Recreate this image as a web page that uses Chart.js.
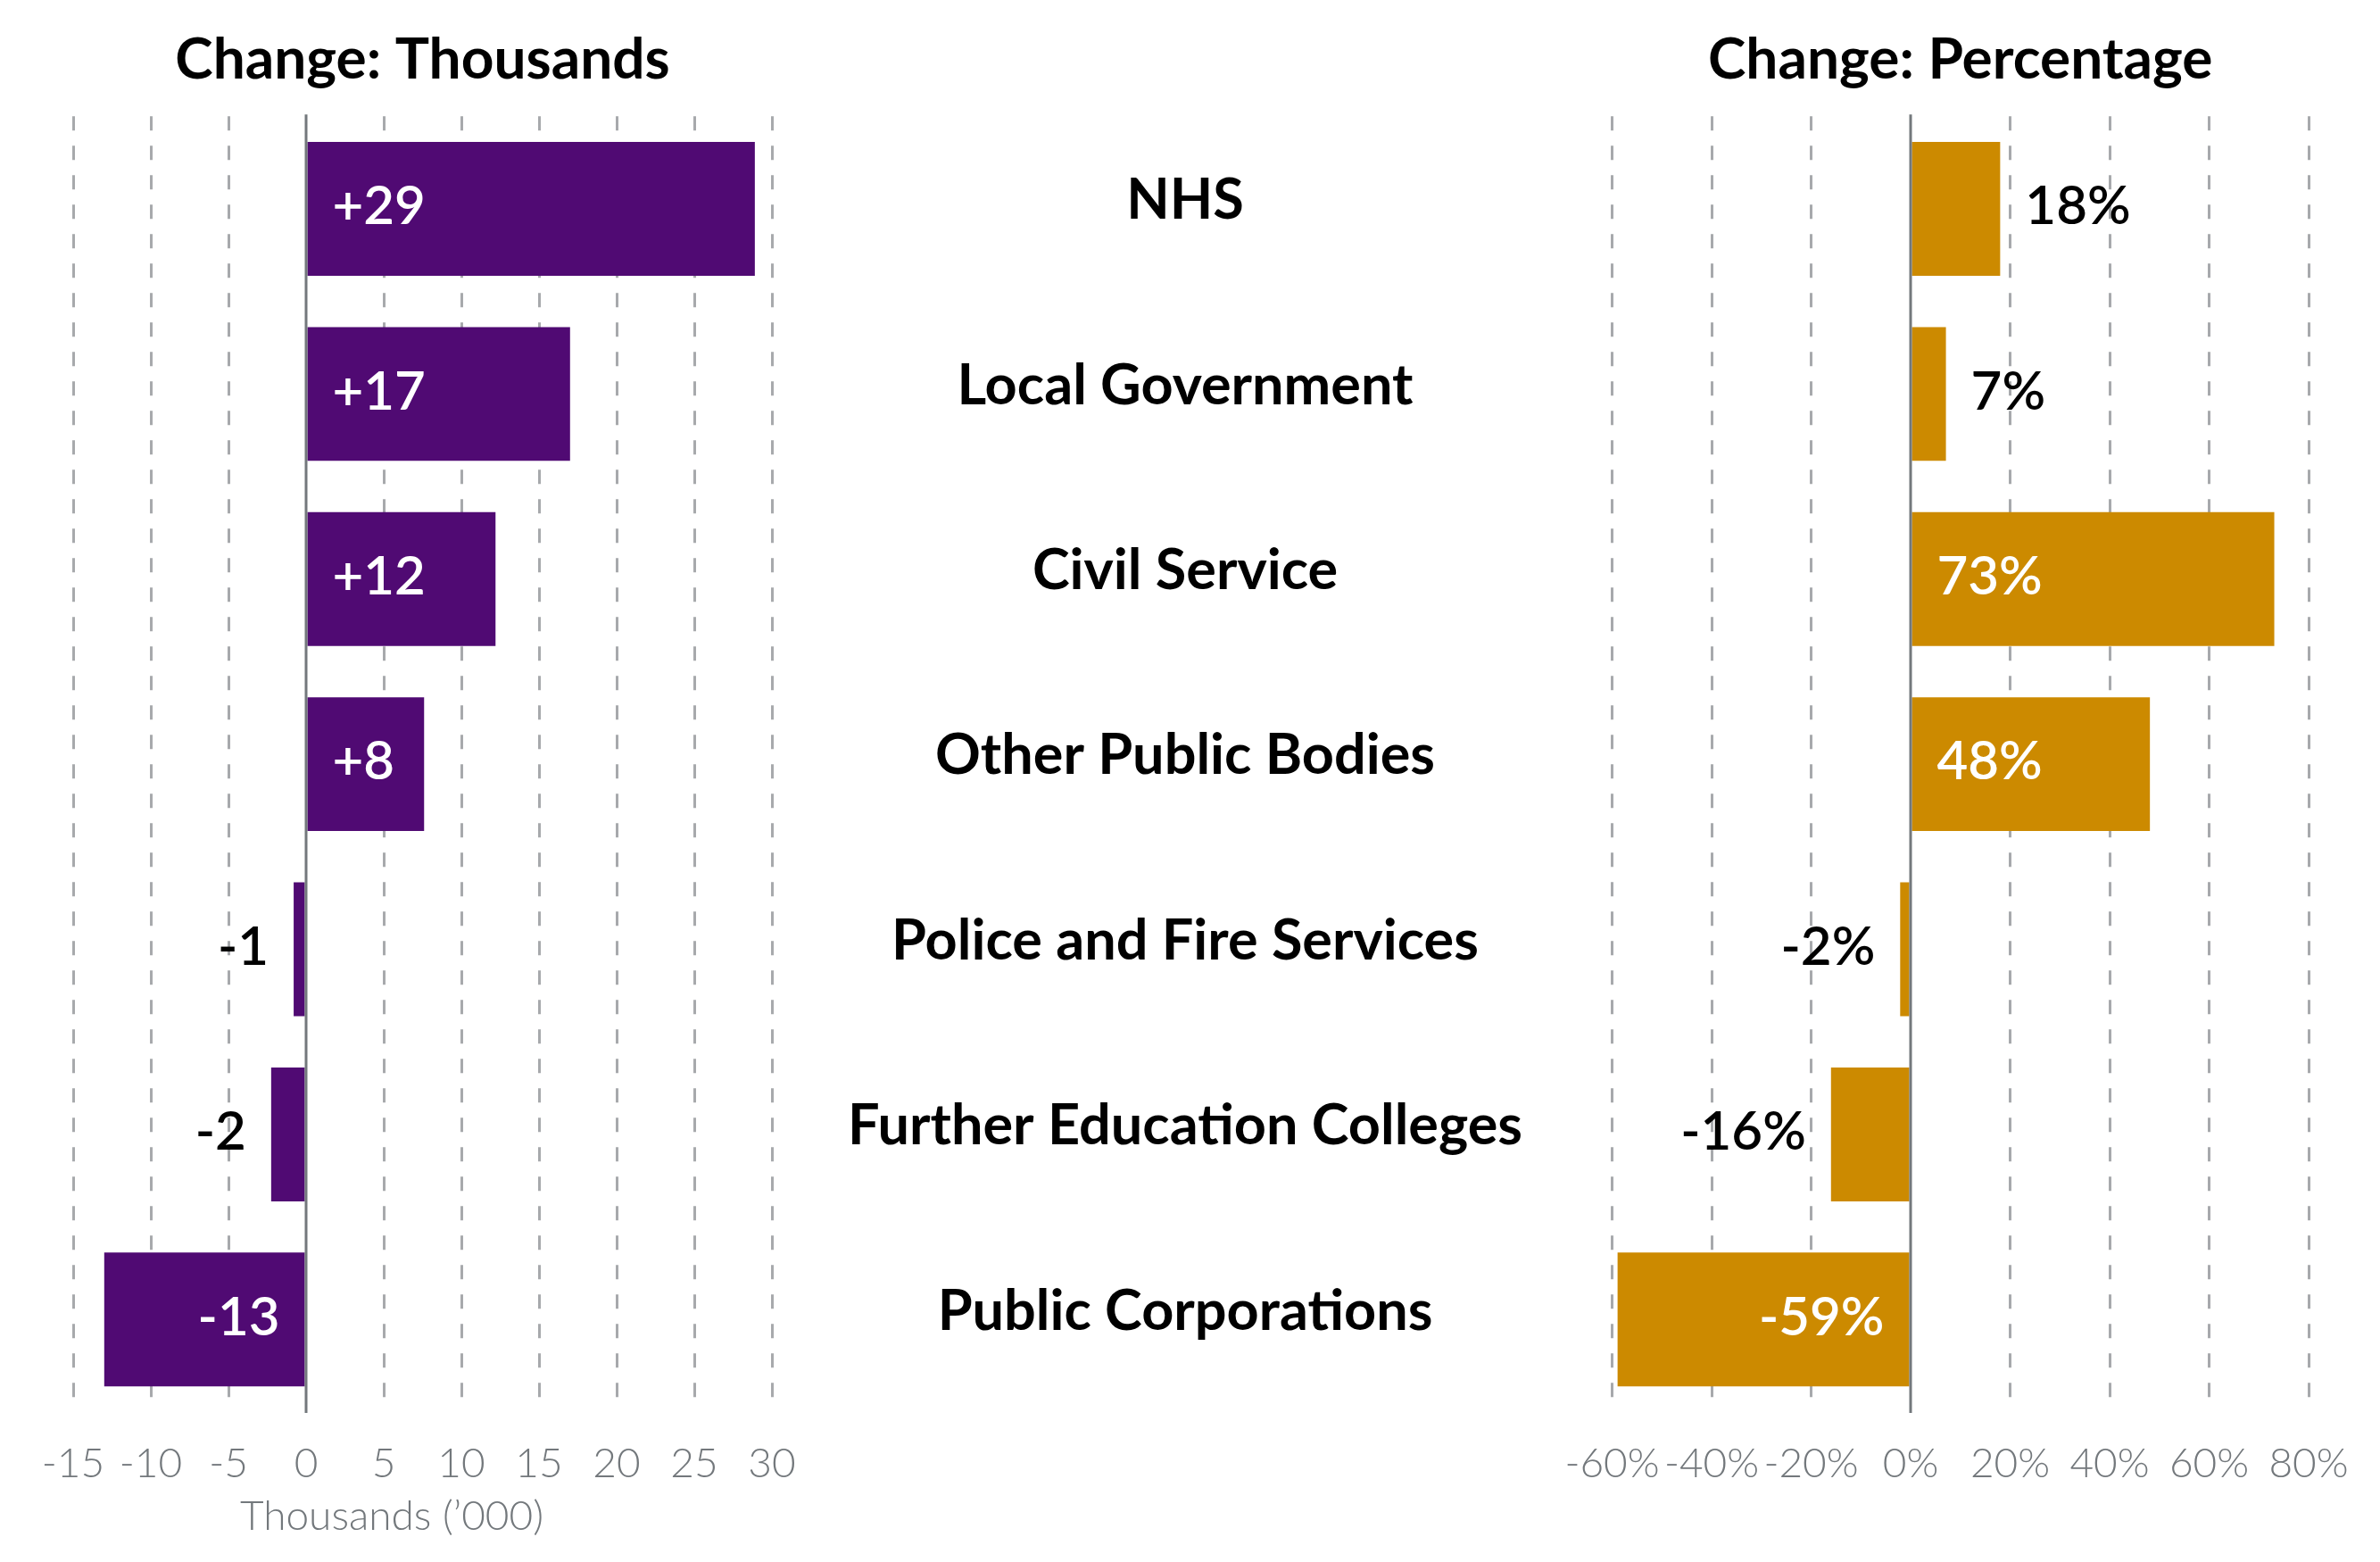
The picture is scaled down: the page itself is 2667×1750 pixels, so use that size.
<!DOCTYPE html>
<html>
<head>
<meta charset="utf-8">
<script src="https://cdn.jsdelivr.net/npm/chart.js@4"></script>
<style>
  html, body { margin: 0; padding: 0; background: #fff; }
  body { width: 2667px; height: 1750px; position: relative; overflow: hidden; }
  #left { position: absolute; left: 0; top: 0; }
  #right { position: absolute; left: 865px; top: 0; }
</style>
</head>
<body>
<canvas id="left" width="947" height="1750"></canvas>
<canvas id="right" width="1802" height="1750"></canvas>
<script>
const sectors = ['NHS', 'Local Government', 'Civil Service', 'Other Public Bodies',
  'Police and Fire Services', 'Further Education Colleges', 'Public Corporations'];
const changeThousands = [28.9, 17.0, 12.2, 7.6, -0.8, -2.25, -13.0];
const changePercent = [18.0, 7.1, 73.1, 48.1, -2.1, -16.0, -58.9];
const thousandsRange = [-15, 30, 5];
const percentRange = [-60, 80, 20];

const purple = '#500a73';
const gold = '#cc8a00';
const gridGrey = '#a7a9ac';
const axisGrey = '#73787c';

// solid line at zero, drawn over the bars
const zeroLine = {
  id: 'zeroLine',
  afterDatasetsDraw(chart) {
    const {ctx, chartArea} = chart;
    const x = chart.scales.x.getPixelForValue(0);
    ctx.save();
    ctx.strokeStyle = axisGrey;
    ctx.lineWidth = 3;
    ctx.beginPath();
    ctx.moveTo(x, chartArea.top - 2);
    ctx.lineTo(x, chartArea.bottom + 1);
    ctx.stroke();
    ctx.restore();
  }
};

// value labels: inside the bar near zero when they fit, else just past the end
const barLabels = {
  id: 'barLabels',
  afterDatasetsDraw(chart, args, opts) {
    const {ctx} = chart;
    const meta = chart.getDatasetMeta(0);
    const values = chart.data.datasets[0].data;
    const pad = 28;
    ctx.save();
    ctx.font = '600 60px Lato';
    ctx.textBaseline = 'middle';
    meta.data.forEach((bar, i) => {
      const text = opts.format(values[i]);
      const w = ctx.measureText(text).width;
      const len = Math.abs(bar.x - bar.base);
      const pos = bar.x >= bar.base;
      ctx.textAlign = pos ? 'left' : 'right';
      if (len > w + pad * 1.5) {
        ctx.fillStyle = '#fff';
        ctx.fillText(text, bar.base + (pos ? pad : -pad), bar.y - 2);
      } else {
        ctx.fillStyle = '#000';
        ctx.fillText(text, bar.x + (pos ? pad : -pad), bar.y - 2);
      }
    });
    ctx.restore();
  }
};

function valueScale(range, fmt, title) {
  return {
    type: 'linear',
    min: range[0],
    max: range[1],
    ticks: {
      stepSize: range[2],
      padding: 31,
      autoSkip: false,
      maxRotation: 0,
      minRotation: 0,
      color: axisGrey,
      font: {family: 'Lato', size: 46, weight: 300},
      callback: fmt
    },
    grid: {
      color: c => (c.tick && c.tick.value === 0) ? 'rgba(0,0,0,0)' : gridGrey,
      lineWidth: 3,
      drawTicks: false
    },
    border: {display: false, dash: [16, 17]},
    title: title ? {
      display: true,
      text: title,
      color: axisGrey,
      font: {family: 'Lato', size: 46, weight: 300},
      padding: {top: 8.6, bottom: 22.8}
    } : {display: false},
    afterFit: s => { s.height = 168; s.paddingLeft = 0; s.paddingRight = 0; }
  };
}

function panelTitle(text) {
  return {
    display: true,
    text: text,
    fullSize: false,
    color: '#000',
    font: {family: 'Lato', size: 64, weight: 'bold'},
    padding: {top: 28.6, bottom: 24.9}
  };
}

// left panel: change in thousands
new Chart(document.getElementById('left'), {
  type: 'bar',
  data: {
    labels: sectors,
    datasets: [{
      data: changeThousands,
      backgroundColor: purple,
      borderWidth: 0,
      barPercentage: 0.723,
      categoryPercentage: 1
    }]
  },
  options: {
    indexAxis: 'y',
    responsive: false,
    devicePixelRatio: 1,
    animation: false,
    layout: {padding: {left: 82, right: 82, top: 0, bottom: 0}},
    scales: {
      // trailing em spaces pull the axis title left, as in the original
      x: valueScale(thousandsRange, v => String(v), 'Thousands (\u2019000)\u2003\u2003'),
      y: {type: 'category', display: false}
    },
    plugins: {
      legend: {display: false},
      tooltip: {enabled: false},
      title: panelTitle('Change: Thousands'),
      barLabels: {format: v => (v > 0 ? '+' : '') + Math.round(v)}
    }
  },
  plugins: [zeroLine, barLabels]
});

// category names sit in the right panel's y axis, centred in the gap
const catFont = 'bold 63px Lato';
const mctx = document.createElement('canvas').getContext('2d');
mctx.font = catFont;
const widest = Math.max(...sectors.map(s => mctx.measureText(s).width));
const yAxisWidth = 941.5;
const labelCentre = 471;

// right panel: change in percent
new Chart(document.getElementById('right'), {
  type: 'bar',
  data: {
    labels: sectors,
    datasets: [{
      data: changePercent,
      backgroundColor: gold,
      borderWidth: 0,
      barPercentage: 0.723,
      categoryPercentage: 1
    }]
  },
  options: {
    indexAxis: 'y',
    responsive: false,
    devicePixelRatio: 1,
    animation: false,
    layout: {padding: {left: 0, right: 80, top: 0, bottom: 0}},
    scales: {
      x: valueScale(percentRange, v => v + '%', null),
      y: {
        type: 'category',
        position: 'left',
        grid: {display: false},
        border: {display: false},
        ticks: {
          color: '#000',
          crossAlign: 'center',
          padding: yAxisWidth - labelCentre - widest / 2,
          labelOffset: -9,
          font: {family: 'Lato', size: 63, weight: 'bold'}
        },
        afterFit: s => { s.width = yAxisWidth; s.paddingTop = 0; s.paddingBottom = 0; }
      }
    },
    plugins: {
      legend: {display: false},
      tooltip: {enabled: false},
      title: panelTitle('Change: Percentage'),
      barLabels: {format: v => Math.round(v) + '%'}
    }
  },
  plugins: [zeroLine, barLabels]
});
</script>
</body>
</html>
